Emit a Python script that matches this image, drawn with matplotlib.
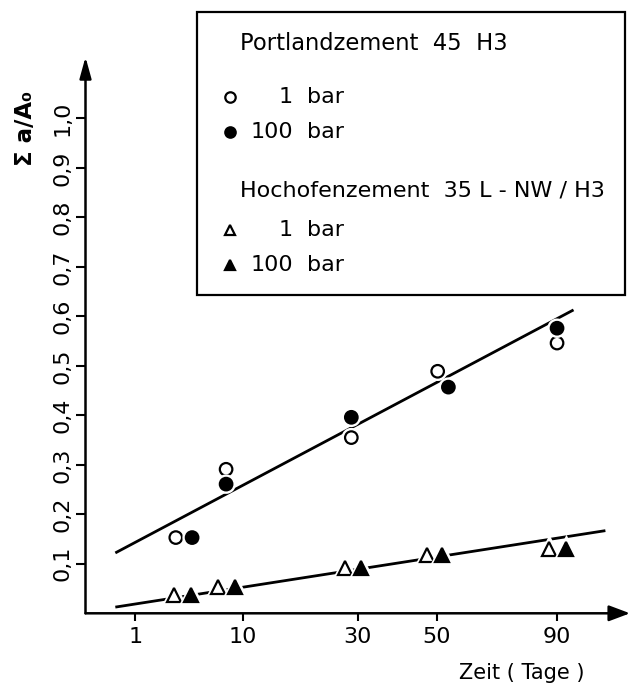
import numpy as np
import matplotlib
matplotlib.use("Agg")
import matplotlib.pyplot as plt
import matplotlib.patheffects as pe
from matplotlib.patches import Rectangle
from matplotlib.lines import Line2D

# Damage sum vs. time (sqrt time axis)
pz_1bar_t = [3.3, 8.0, 28.6, 50.2, 90.0]
pz_1bar_y = [0.153, 0.291, 0.355, 0.489, 0.546]
pz_100bar_t = [4.6, 8.0, 28.6, 53.3, 90.0]
pz_100bar_y = [0.153, 0.261, 0.396, 0.457, 0.576]

hoz_1bar_t = [3.2, 7.1, 27.3, 47.2, 87.0]
hoz_1bar_y = [0.037, 0.054, 0.091, 0.118, 0.130]
hoz_100bar_t = [4.5, 9.0, 30.8, 51.4, 93.5]
hoz_100bar_y = [0.037, 0.054, 0.091, 0.118, 0.130]

# fitted lines (end points)
pz_fit_t = [0.36, 96.4]
pz_fit_y = [0.122, 0.613]
hoz_fit_t = [0.36, 109.4]
hoz_fit_y = [0.0125, 0.167]

xticks = [1, 10, 30, 50, 90]
yticks = [0.1, 0.2, 0.3, 0.4, 0.5, 0.6, 0.7, 0.8, 0.9, 1.0]
ytick_labels = ["0,1", "0,2", "0,3", "0,4", "0,5", "0,6", "0,7", "0,8", "0,9", "1,0"]

plt.rcParams["font.family"] = ["DejaVu Sans"]
W, H = 630, 687
fig = plt.figure(figsize=(W / 100, H / 100), dpi=100)

x0, y0 = 85.5, 613.3
ax = fig.add_axes([x0 / W, (H - y0) / H, (W - x0) / W, (y0 - 57) / H])
ax.set_xscale("function", functions=(lambda x: np.sqrt(np.clip(x, 0, None)),
                                     lambda x: np.square(x)))
ax.set_xlim(0, 120)
ax.set_ylim(0, 1.124)

for s in ax.spines.values():
    s.set_visible(False)

arrow_kw = dict(arrowstyle="-|>,head_length=0.8,head_width=0.22", lw=1.8,
                color="k", mutation_scale=16, shrinkA=0, shrinkB=0)
ax.annotate("", xy=(0, 1), xytext=(0, 0), xycoords="axes fraction",
            arrowprops=arrow_kw)
ax.annotate("", xy=(1, 0), xytext=(0, 0), xycoords="axes fraction",
            arrowprops=dict(arrow_kw, arrowstyle="-|>,head_length=0.8,head_width=0.3"))

lw_line = 2.0
ax.plot(pz_fit_t, pz_fit_y, color="k", lw=lw_line, solid_capstyle="butt", zorder=2)
ax.plot(hoz_fit_t, hoz_fit_y, color="k", lw=lw_line, solid_capstyle="butt", zorder=2)

halo = [pe.Stroke(linewidth=5, foreground="white"), pe.Normal()]
mk = dict(linestyle="none", markeredgecolor="k", markeredgewidth=1.6, zorder=3,
          clip_on=False)
ax.plot(pz_1bar_t, pz_1bar_y, marker="o", ms=9, markerfacecolor="white",
        path_effects=halo, **mk)
ax.plot(pz_100bar_t, pz_100bar_y, marker="o", ms=9, markerfacecolor="k",
        path_effects=halo, **mk)
ax.plot(hoz_1bar_t, hoz_1bar_y, marker="^", ms=10, markerfacecolor="white",
        path_effects=halo, **mk)
ax.plot(hoz_100bar_t, hoz_100bar_y, marker="^", ms=10, markerfacecolor="k",
        path_effects=halo, **mk)

ax.set_xticks(xticks)
ax.set_xticklabels([str(v) for v in xticks])
ax.set_yticks(yticks)
ax.set_yticklabels(ytick_labels, rotation=90, va="center")
ax.tick_params(axis="x", direction="out", length=6, width=1.5, pad=4,
               labelsize=16)
ax.tick_params(axis="y", direction="out", length=7, width=1.5, pad=2,
               labelsize=16)
ax.minorticks_off()

# axis titles
fig.text(25 / W, 1 - 129 / H, "Σ a/A₀", rotation=90, ha="center", va="center",
         fontsize=16.5, fontweight="bold")
fig.text(522 / W, 1 - 673 / H, "Zeit ( Tage )", ha="center", va="center",
         fontsize=15)

# key box
bx0, by0, bx1, by1 = 197, 12, 625, 295
fig.patches.append(Rectangle((bx0 / W, 1 - by1 / H), (bx1 - bx0) / W,
                             (by1 - by0) / H, transform=fig.transFigure,
                             fill=False, edgecolor="k", lw=1.6))


def fx(px):
    return px / W


def fy(py):
    return 1 - py / H


fig.text(fx(240), fy(43), "Portlandzement  45  H3", ha="left", va="center",
         fontsize=16.3)
fig.text(fx(240), fy(190), "Hochofenzement  35 L - NW / H3", ha="left",
         va="center", fontsize=16)

key_rows = [
    (97, "o", "white", "1"),
    (132, "o", "k", "100"),
    (230, "^", "white", "1"),
    (265, "^", "k", "100"),
]
for py, m, fc, num in key_rows:
    fig.add_artist(Line2D([fx(230)], [fy(py)], transform=fig.transFigure,
                          marker=m, ms=7.5, markerfacecolor=fc,
                          markeredgecolor="k", markeredgewidth=1.6,
                          linestyle="none"))
    fig.text(fx(293), fy(py), num, ha="right", va="center", fontsize=16)
    fig.text(fx(307), fy(py), "bar", ha="left", va="center", fontsize=16)

fig.savefig("out.png", dpi=100)
